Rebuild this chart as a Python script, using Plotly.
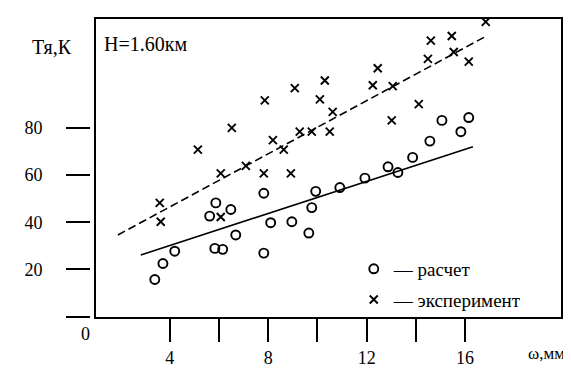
import plotly.graph_objects as go

# --- data ---
calc_x = [3.39, 3.72, 4.20, 5.83, 6.15, 5.62, 5.87, 6.48, 6.68, 7.82, 7.82, 8.10, 8.96,
          9.65, 9.77, 9.93, 10.91, 11.93, 12.87, 13.27, 13.87, 14.57, 15.06, 15.83, 16.15]
calc_y = [15.7, 22.5, 27.7, 28.9, 28.5, 42.6, 48.2, 45.4, 34.6, 52.3, 26.9, 39.8, 40.2,
          35.4, 46.2, 53.1, 54.7, 58.7, 63.5, 61.1, 67.5, 74.4, 83.2, 78.4, 84.4]

exp_x = [3.59, 3.63, 5.14, 6.07, 6.07, 6.52, 7.09, 7.82, 7.86, 8.19, 8.63, 8.92, 9.08,
         9.28, 9.77, 10.10, 10.30, 10.50, 10.62, 12.25, 12.45, 13.02, 13.06, 14.12,
         14.49, 14.61, 15.46, 15.54, 16.15, 16.84]
exp_y = [48.2, 40.2, 70.8, 60.7, 42.2, 80.0, 63.9, 60.7, 91.7, 74.8, 70.8, 60.7, 96.9,
         78.4, 78.4, 92.1, 100.1, 78.4, 86.8, 98.1, 105.3, 83.2, 97.7, 90.1,
         109.3, 117.0, 119.0, 112.2, 108.1, 125.0]

calc_fit_x = [2.82, 16.32]
calc_fit_y = [26.1, 72.0]
exp_fit_x = [1.89, 16.80]
exp_fit_y = [34.6, 118.6]

x_tickvals = [4, 6, 8, 10, 12, 14, 16]
x_ticktext = ["4", "", "8", "", "12", "", "16"]
y_tickvals = [0, 20, 40, 60, 80]
y_ticktext = ["", "20", "40", "60", "80"]

x_range = [1.0, 19.9]
y_range = [-0.2, 126.2]

FONT = "Liberation Serif"

fig = go.Figure()

fig.add_trace(go.Scatter(
    x=exp_fit_x, y=exp_fit_y, mode="lines", showlegend=False,
    line=dict(color="black", width=1.6, dash="8px,4px")))
fig.add_trace(go.Scatter(
    x=calc_fit_x, y=calc_fit_y, mode="lines", showlegend=False,
    line=dict(color="black", width=1.6)))

fig.add_trace(go.Scatter(
    x=calc_x, y=calc_y, mode="markers", name="— расчет", legendgroup="a",
    marker=dict(symbol="circle-open", size=9, color="black", line=dict(width=1.9, color="black"))))
fig.add_trace(go.Scatter(
    x=exp_x, y=exp_y, mode="markers", name="— эксперимент", legendgroup="b",
    marker=dict(symbol="x-thin-open", size=8, color="black", line=dict(width=1.9, color="black"))))

# invisible trace to attach the detached y-axis ticks
fig.add_trace(go.Scatter(x=[None], y=[None], yaxis="y2", showlegend=False, hoverinfo="skip"))

fig.update_layout(
    width=571, height=369,
    margin=dict(l=82, r=18, t=9, b=47),
    paper_bgcolor="white", plot_bgcolor="white",
    font=dict(family=FONT, size=17, color="black"),
    showlegend=True,
    legend=dict(x=0.56, y=0.225, xanchor="left", yanchor="top",
                bgcolor="rgba(0,0,0,0)", tracegroupgap=3,
                font=dict(family=FONT, size=19, color="black"),
                itemwidth=30),
    xaxis=dict(range=x_range, domain=[6 / 471, 1], showgrid=False, zeroline=False,
               showline=True, linecolor="black", linewidth=2, mirror=True,
               ticks="outside", ticklen=23, tickwidth=2, tickcolor="black",
               tickvals=x_tickvals, ticktext=x_ticktext,
               tickfont=dict(family=FONT, size=18, color="black")),
    yaxis=dict(range=y_range, showgrid=False, zeroline=False,
               showline=True, linecolor="black", linewidth=2, mirror=True,
               ticks="", showticklabels=False),
    yaxis2=dict(range=y_range, overlaying="y", anchor="free", position=0, side="left",
                showgrid=False, zeroline=False, showline=False,
                ticks="outside", ticklen=24, tickwidth=2, tickcolor="black",
                tickvals=y_tickvals, ticktext=y_ticktext, ticklabelstandoff=20,
                tickfont=dict(family=FONT, size=18, color="black")),
)

fig.add_annotation(text="Тя,К", xref="paper", yref="paper", x=-0.1274, y=0.905,
                   xanchor="left", yanchor="middle", showarrow=False,
                   font=dict(family=FONT, size=20, color="black"))
fig.add_annotation(text="H=1.60км", xref="paper", yref="paper", x=0.025, y=0.915,
                   xanchor="left", yanchor="middle", showarrow=False,
                   font=dict(family=FONT, size=20, color="black"))
fig.add_annotation(text="ω,мм", xref="paper", yref="paper", x=1.012, y=-0.121,
                   xanchor="right", yanchor="middle", showarrow=False,
                   font=dict(family=FONT, size=17, color="black"))
fig.add_annotation(text="0", xref="paper", yref="paper", x=-0.01, y=-0.0575,
                   xanchor="center", yanchor="middle", showarrow=False,
                   font=dict(family=FONT, size=18, color="black"))

fig.write_html("out.html")
